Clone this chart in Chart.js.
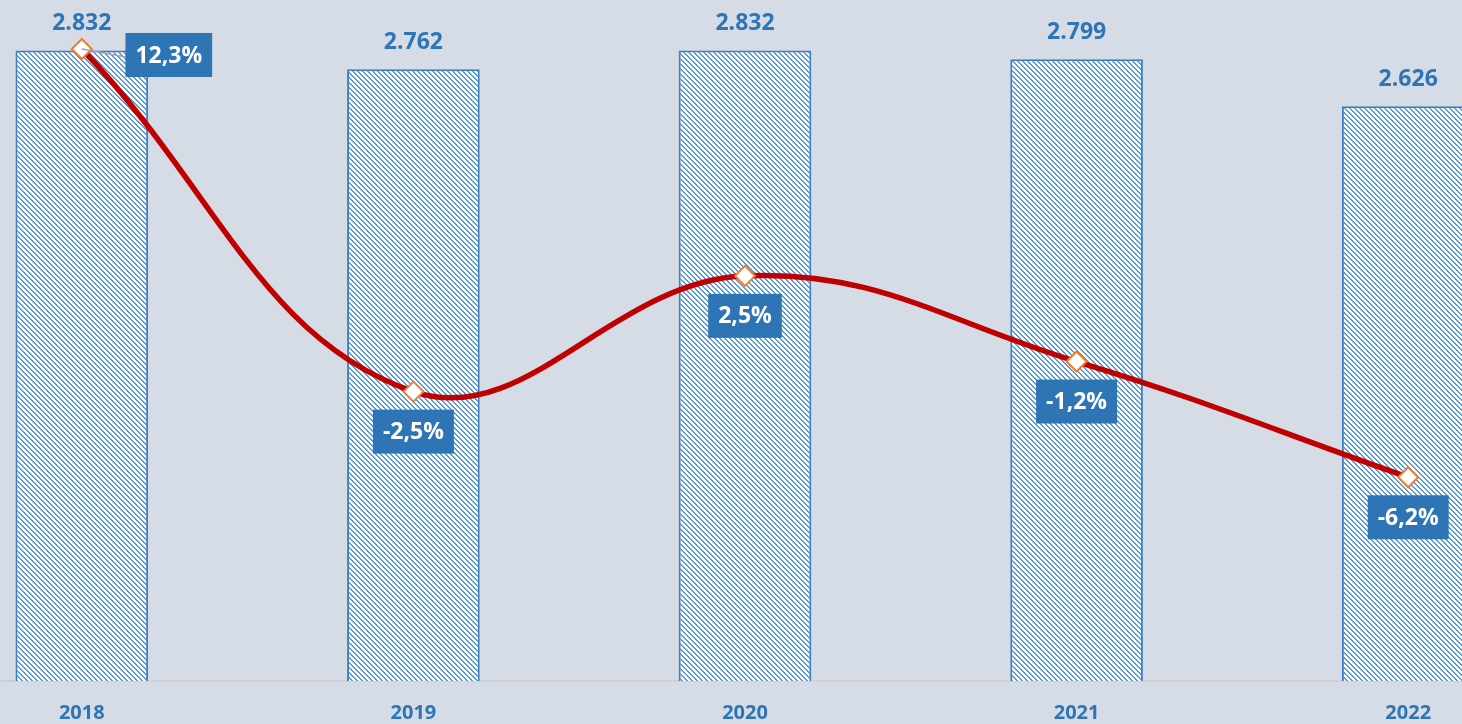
<!DOCTYPE html>
<html>
<head>
<meta charset="utf-8">
<script src="https://cdn.jsdelivr.net/npm/chart.js@4"></script>
<style>
  html, body { margin: 0; padding: 0; background: #D6DCE5; overflow: hidden; }
  #wrap { position: relative; width: 1462px; height: 724px; overflow: hidden; }
  #chart { position: absolute; left: -84px; top: 0; }
</style>
</head>
<body>
<div id="wrap"><canvas id="chart" width="1658" height="724"></canvas></div>
<script>
const years = ['2018', '2019', '2020', '2021', '2022'];
const totals = [2832, 2762, 2832, 2799, 2626];
const changes = [12.3, -2.5, 2.5, -1.2, -6.2];

const blue = '#2E75B6';

// diagonal stripe fill like the excel pattern
function stripes() {
    const n = 5;
    const c = document.createElement('canvas');
    c.width = n; c.height = n;
    const g = c.getContext('2d');
    g.fillStyle = '#ffffff';
    g.fillRect(0, 0, n, n);
    g.fillStyle = '#5B9BD5';
    for (let y = 0; y < n; y++) {
        for (let x = 0; x < n; x++) {
            const d = ((x - y) % n + n) % n;
            if (d < 2) g.fillRect(x, y, 1, 1);
        }
    }
    return g.createPattern(c, 'repeat');
}

const fmtTotal = v => String(v).replace(/\B(?=(\d{3})+(?!\d))/g, '.');
const fmtPct = v => v.toFixed(1).replace('.', ',') + '%';

const labelsPlugin = {
    id: 'labels',
    afterDatasetsDraw(chart) {
        const ctx = chart.ctx;
        ctx.save();
        ctx.textAlign = 'center';
        ctx.textBaseline = 'middle';

        // bar totals
        ctx.font = 'bold 23px "Open Sans"';
        ctx.fillStyle = blue;
        chart.getDatasetMeta(1).data.forEach((bar, i) => {
            ctx.fillText(fmtTotal(totals[i]), bar.x, bar.y - 27);
        });

        // percentage boxes
        ctx.font = 'bold 23px "Open Sans"';
        chart.getDatasetMeta(0).data.forEach((pt, i) => {
            const text = fmtPct(changes[i]);
            const w = ctx.measureText(text).width + 20;
            const h = 44;
            let cx = pt.x, cy = pt.y + 40;
            if (i === 0) {
                cx = pt.x + 87; cy = pt.y + 6;
                ctx.strokeStyle = '#A6A6A6';
                ctx.lineWidth = 1.5;
                ctx.beginPath();
                ctx.moveTo(pt.x, pt.y);
                ctx.lineTo(cx - w / 2, cy + 2);
                ctx.stroke();
            }
            ctx.fillStyle = blue;
            ctx.fillRect(cx - w / 2, cy - h / 2, w, h);
            ctx.fillStyle = '#ffffff';
            ctx.fillText(text, cx, cy + 1);
        });
        ctx.restore();
    }
};

new Chart(document.getElementById('chart'), {
    data: {
        labels: years,
        datasets: [{
            type: 'line',
            label: 'Variazione',
            data: changes,
            yAxisID: 'y2',
            order: 0,
            borderColor: '#C00000',
            borderWidth: 5.5,
            tension: 0.4,
            pointStyle: 'rectRot',
            pointRadius: 10,
            pointBorderWidth: 2,
            pointBorderColor: '#ED7D31',
            pointBackgroundColor: '#ffffff',
            clip: false
        }, {
            type: 'bar',
            label: 'Totale',
            data: totals,
            yAxisID: 'y',
            order: 1,
            backgroundColor: stripes(),
            borderColor: '#3D7FC4',
            borderWidth: 2,
            categoryPercentage: 1,
            barPercentage: 0.4
        }]
    },
    options: {
        responsive: false,
        animation: false,
        layout: { autoPadding: false, padding: { top: 5, left: 0, right: 0, bottom: 0 } },
        plugins: {
            legend: { display: false },
            tooltip: { enabled: false }
        },
        scales: {
            x: {
                grid: { display: false, drawTicks: false },
                border: { display: true, color: '#D0D0D0', width: 2 },
                ticks: {
                    padding: 20,
                    color: blue,
                    font: { family: '"Open Sans"', size: 20, weight: 'bold' }
                },
                afterFit: scale => { scale.height = 43; }
            },
            y: {
                display: false,
                min: 500,
                max: 3000
            },
            y2: {
                display: false,
                min: -15,
                max: 14.2
            }
        }
    },
    plugins: [labelsPlugin]
});
</script>
</body>
</html>
